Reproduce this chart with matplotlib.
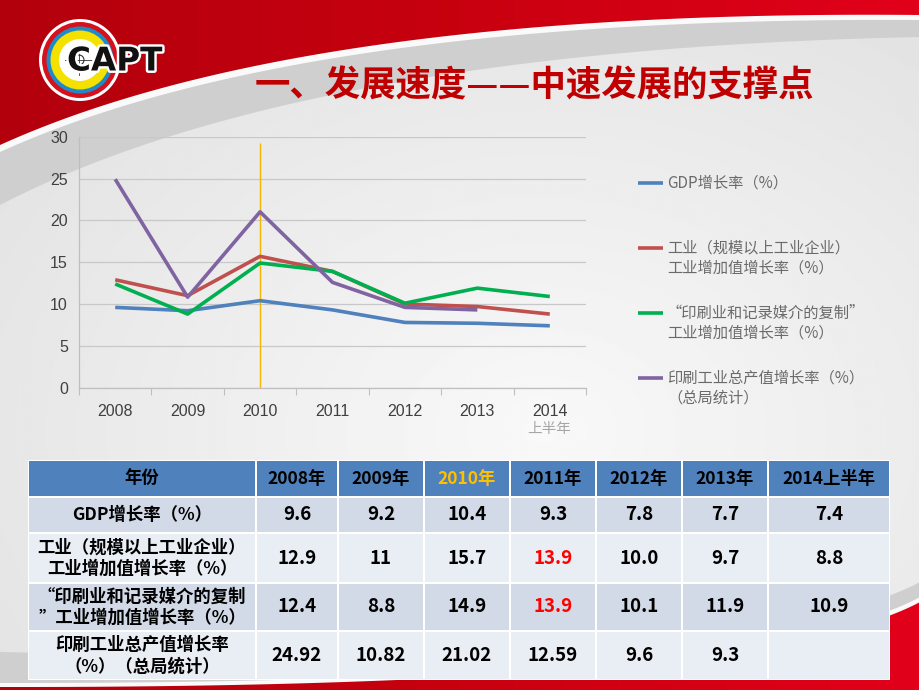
"""Slide: 发展速度 line chart with data table underneath."""

import numpy as np
import matplotlib

matplotlib.use("Agg")
import matplotlib.pyplot as plt
import matplotlib.patheffects as pe
from matplotlib.colors import LinearSegmentedColormap
from matplotlib.patches import Circle, Polygon, Rectangle

plt.rcParams["font.family"] = ["Noto Sans CJK SC", "DejaVu Sans"]

TITLE = "一、发展速度——中速发展的支撑点"

YEARS = ["2008", "2009", "2010", "2011", "2012", "2013", "2014"]
LAST_YEAR_NOTE = "上半年"
HIGHLIGHT_YEAR = "2010"

GDP = [9.6, 9.2, 10.4, 9.3, 7.8, 7.7, 7.4]
INDUSTRY = [12.9, 11, 15.7, 13.9, 10.0, 9.7, 8.8]
PRINT_COPY = [12.4, 8.8, 14.9, 13.9, 10.1, 11.9, 10.9]
PRINT_OUTPUT = [24.92, 10.82, 21.02, 12.59, 9.6, 9.3]

SERIES = [GDP, INDUSTRY, PRINT_COPY, PRINT_OUTPUT]
SERIES_COLORS = ["#4F81BD", "#C0504D", "#00B050", "#8064A2"]
LEGEND_LINES = [
    ["GDP增长率（%）"],
    ["工业（规模以上工业企业）", "工业增加值增长率（%）"],
    ["“印刷业和记录媒介的复制”", "工业增加值增长率（%）"],
    ["印刷工业总产值增长率（%）", "（总局统计）"],
]

TABLE_HEADER = ["年份", "2008年", "2009年", "2010年", "2011年", "2012年", "2013年", "2014上半年"]
ROW_LABELS = [
    "GDP增长率（%）",
    "工业（规模以上工业企业）\n工业增加值增长率（%）",
    "“印刷业和记录媒介的复制\n”工业增加值增长率（%）",
    "印刷工业总产值增长率\n（%）（总局统计）",
]
TABLE_VALUES = [
    ["9.6", "9.2", "10.4", "9.3", "7.8", "7.7", "7.4"],
    ["12.9", "11", "15.7", "13.9", "10.0", "9.7", "8.8"],
    ["12.4", "8.8", "14.9", "13.9", "10.1", "11.9", "10.9"],
    ["24.92", "10.82", "21.02", "12.59", "9.6", "9.3", ""],
]
RED_CELLS = [(1, 3), (2, 3)]

# pixel layout of the slide
COL_EDGES = [28, 256, 338, 424, 510, 596, 682, 768, 890]
ROW_EDGES = [460, 497, 533, 583, 631, 680]
ROW_COLORS = ["#D3DAE7", "#E9EDF4", "#D3DAE7", "#E9EDF4"]


def bezier(p0, p1, p2, n=150):
    t = np.linspace(0, 1, n)[:, None]
    return (1 - t) ** 2 * np.array(p0) + 2 * (1 - t) * t * np.array(p1) + t ** 2 * np.array(p2)


def draw_background(bg):
    yy, xx = np.mgrid[0:690:3, 0:920:3]
    d = np.sqrt(((xx - 540) / 650) ** 2 + ((yy - 430) / 480) ** 2)
    shade = np.clip(0.975 - 0.085 * d, 0.885, 0.975)
    bg.imshow(shade, cmap="gray", vmin=0, vmax=1, extent=(0, 920, 690, 0), aspect="auto", zorder=0)

    # top sweep: grey band, white stripe, red band
    grey = bezier((0, 205), (300, 50), (920, 37))
    bg.add_patch(Polygon(np.vstack([grey, [[920, 0], [0, 0]]]), facecolor="#CFCFCF", edgecolor="none", zorder=1))
    white = bezier((0, 152), (300, 16), (920, 20))
    bg.add_patch(Polygon(np.vstack([white, [[920, 0], [0, 0]]]), facecolor="#FAFAFA", edgecolor="none", zorder=1.1))
    red = bezier((0, 145), (300, 9), (920, 15))
    red_poly = Polygon(np.vstack([red, [[920, 0], [0, 0]]]), facecolor="none", edgecolor="none", zorder=1.2)
    bg.add_patch(red_poly)
    red_cmap = LinearSegmentedColormap.from_list("red", ["#B3000D", "#C8000F", "#E2001A"])
    im = bg.imshow(np.linspace(0, 1, 256)[None, :], cmap=red_cmap, extent=(0, 920, 150, 0), aspect="auto", zorder=1.2)
    im.set_clip_path(red_poly)

    # bottom sweep
    grey_b = bezier((0, 652), (760, 668), (920, 582))
    bg.add_patch(Polygon(np.vstack([grey_b, [[920, 690], [0, 690]]]), facecolor="#CFCFCF", edgecolor="none", zorder=1))
    white_b = bezier((0, 683), (760, 684), (920, 597))
    bg.add_patch(Polygon(np.vstack([white_b, [[920, 690], [0, 690]]]), facecolor="#FAFAFA", edgecolor="none", zorder=1.1))
    red_b = bezier((0, 687), (760, 688), (920, 602))
    red_b_poly = Polygon(np.vstack([red_b, [[920, 690], [0, 690]]]), facecolor="none", edgecolor="none", zorder=1.2)
    bg.add_patch(red_b_poly)
    im_b = bg.imshow(np.linspace(0, 1, 256)[None, :], cmap=red_cmap, extent=(0, 920, 690, 580), aspect="auto", zorder=1.2)
    im_b.set_clip_path(red_b_poly)


def draw_logo(bg):
    cx, cy = 80, 60
    for r, c in [(41, "white"), (38, "#D7101C"), (33.5, "#1E8AC9"), (29.5, "#F4E100"), (21, "white")]:
        bg.add_patch(Circle((cx, cy), r, facecolor=c, edgecolor="none", zorder=2))
    bg.add_patch(Circle((cx - 1, cy), 5, facecolor="none", edgecolor="#333333", lw=0.8, zorder=2.1))
    bg.plot([cx - 15, cx + 13], [cy, cy], color="#333333", lw=0.6, zorder=2.1)
    bg.plot([cx - 1, cx - 1], [cy - 15, cy + 15], color="#333333", lw=0.6, zorder=2.1)
    bg.text(67, 61, "CAPT", fontsize=23.5, fontweight="bold", family="DejaVu Sans", color="#111111",
            ha="left", va="center", zorder=2.2,
            path_effects=[pe.withStroke(linewidth=3.5, foreground="white")])


def draw_chart(fig):
    ax = fig.add_axes([79 / 920, (690 - 387.7) / 690, 507 / 920, 251 / 690])
    ax.set_facecolor("none")
    ax.set_zorder(3)
    x = np.arange(len(YEARS))

    hi = YEARS.index(HIGHLIGHT_YEAR)
    ax.vlines(hi, 0, 29.2, color="#F5B400", lw=1.0, zorder=2)

    for values, color in zip(SERIES, SERIES_COLORS):
        ax.plot(x[: len(values)], values, color=color, lw=2.6, solid_joinstyle="round",
                solid_capstyle="butt", zorder=3)

    ax.set_xlim(-0.5, len(YEARS) - 0.5)
    ax.set_ylim(0, 30)
    ax.set_yticks(range(0, 31, 5))
    ax.grid(axis="y", color="#C8C8C8", lw=0.9)
    ax.set_axisbelow(True)
    ax.set_xticks(x)
    ax.set_xticklabels(YEARS)
    ax.set_xticks(np.arange(-0.5, len(YEARS)), minor=True)
    ax.tick_params(axis="x", which="major", length=0, pad=12)
    ax.tick_params(axis="x", which="minor", length=5, color="#BFBFBF", width=0.8)
    ax.tick_params(axis="y", length=0, pad=8)
    for lab in ax.get_xticklabels() + ax.get_yticklabels():
        lab.set_family("Liberation Sans")
        lab.set_fontsize(11.5)
        lab.set_color("#404040")
    for side in ["top", "right"]:
        ax.spines[side].set_visible(False)
    for side in ["left", "bottom"]:
        ax.spines[side].set_color("#BFBFBF")
        ax.spines[side].set_linewidth(0.9)
    return ax


def draw_legend(bg):
    first_rows = [183, 248, 313, 378]
    for lines, color, y in zip(LEGEND_LINES, SERIES_COLORS, first_rows):
        bg.plot([638, 663], [y, y], color=color, lw=2.6, solid_capstyle="butt", zorder=3)
        for i, text in enumerate(lines):
            bg.text(667, y + i * 20, text, fontsize=11, color="#6A6A6A", ha="left", va="center", zorder=3)


def draw_table(bg):
    n_cols = len(COL_EDGES) - 1
    bg.add_patch(Rectangle((COL_EDGES[0], ROW_EDGES[0]), COL_EDGES[-1] - COL_EDGES[0],
                           ROW_EDGES[-1] - ROW_EDGES[0], facecolor="white", edgecolor="none", zorder=3))
    rows = [TABLE_HEADER] + [[lab] + vals for lab, vals in zip(ROW_LABELS, TABLE_VALUES)]
    for r, row in enumerate(rows):
        y0, y1 = ROW_EDGES[r], ROW_EDGES[r + 1]
        fill = "#4F81BD" if r == 0 else ROW_COLORS[r - 1]
        for c in range(n_cols):
            x0, x1 = COL_EDGES[c], COL_EDGES[c + 1]
            bg.add_patch(Rectangle((x0 + 1, y0 + 1), x1 - x0 - 2, y1 - y0 - 2,
                                   facecolor=fill, edgecolor="none", zorder=3.1))
            color = "black"
            if r == 0 and row[c] == HIGHLIGHT_YEAR + "年":
                color = "#FFC000"
            if (r - 1, c - 1) in RED_CELLS:
                color = "#FF0000"
            size = 12.5 if (c == 0 or r == 0) else 13.5
            bg.text((x0 + x1) / 2, (y0 + y1) / 2, row[c], ha="center", va="center", fontsize=size,
                    fontweight="bold", color=color, linespacing=1.25, zorder=3.2)


def main():
    fig = plt.figure(figsize=(9.2, 6.9), dpi=100)
    bg = fig.add_axes([0, 0, 1, 1])
    bg.set_xlim(0, 920)
    bg.set_ylim(690, 0)
    bg.axis("off")

    draw_background(bg)
    draw_logo(bg)
    bg.text(534, 86, TITLE, ha="center", va="center", fontsize=25.5, fontweight="bold",
            color="#C00000", zorder=3)
    draw_chart(fig)
    bg.text(549, 429, LAST_YEAR_NOTE, ha="center", va="center", fontsize=10.5, color="#A6A6A6", zorder=3)
    draw_legend(bg)
    draw_table(bg)

    fig.savefig("out.png", dpi=100)
    plt.close(fig)


if __name__ == "__main__":
    main()
